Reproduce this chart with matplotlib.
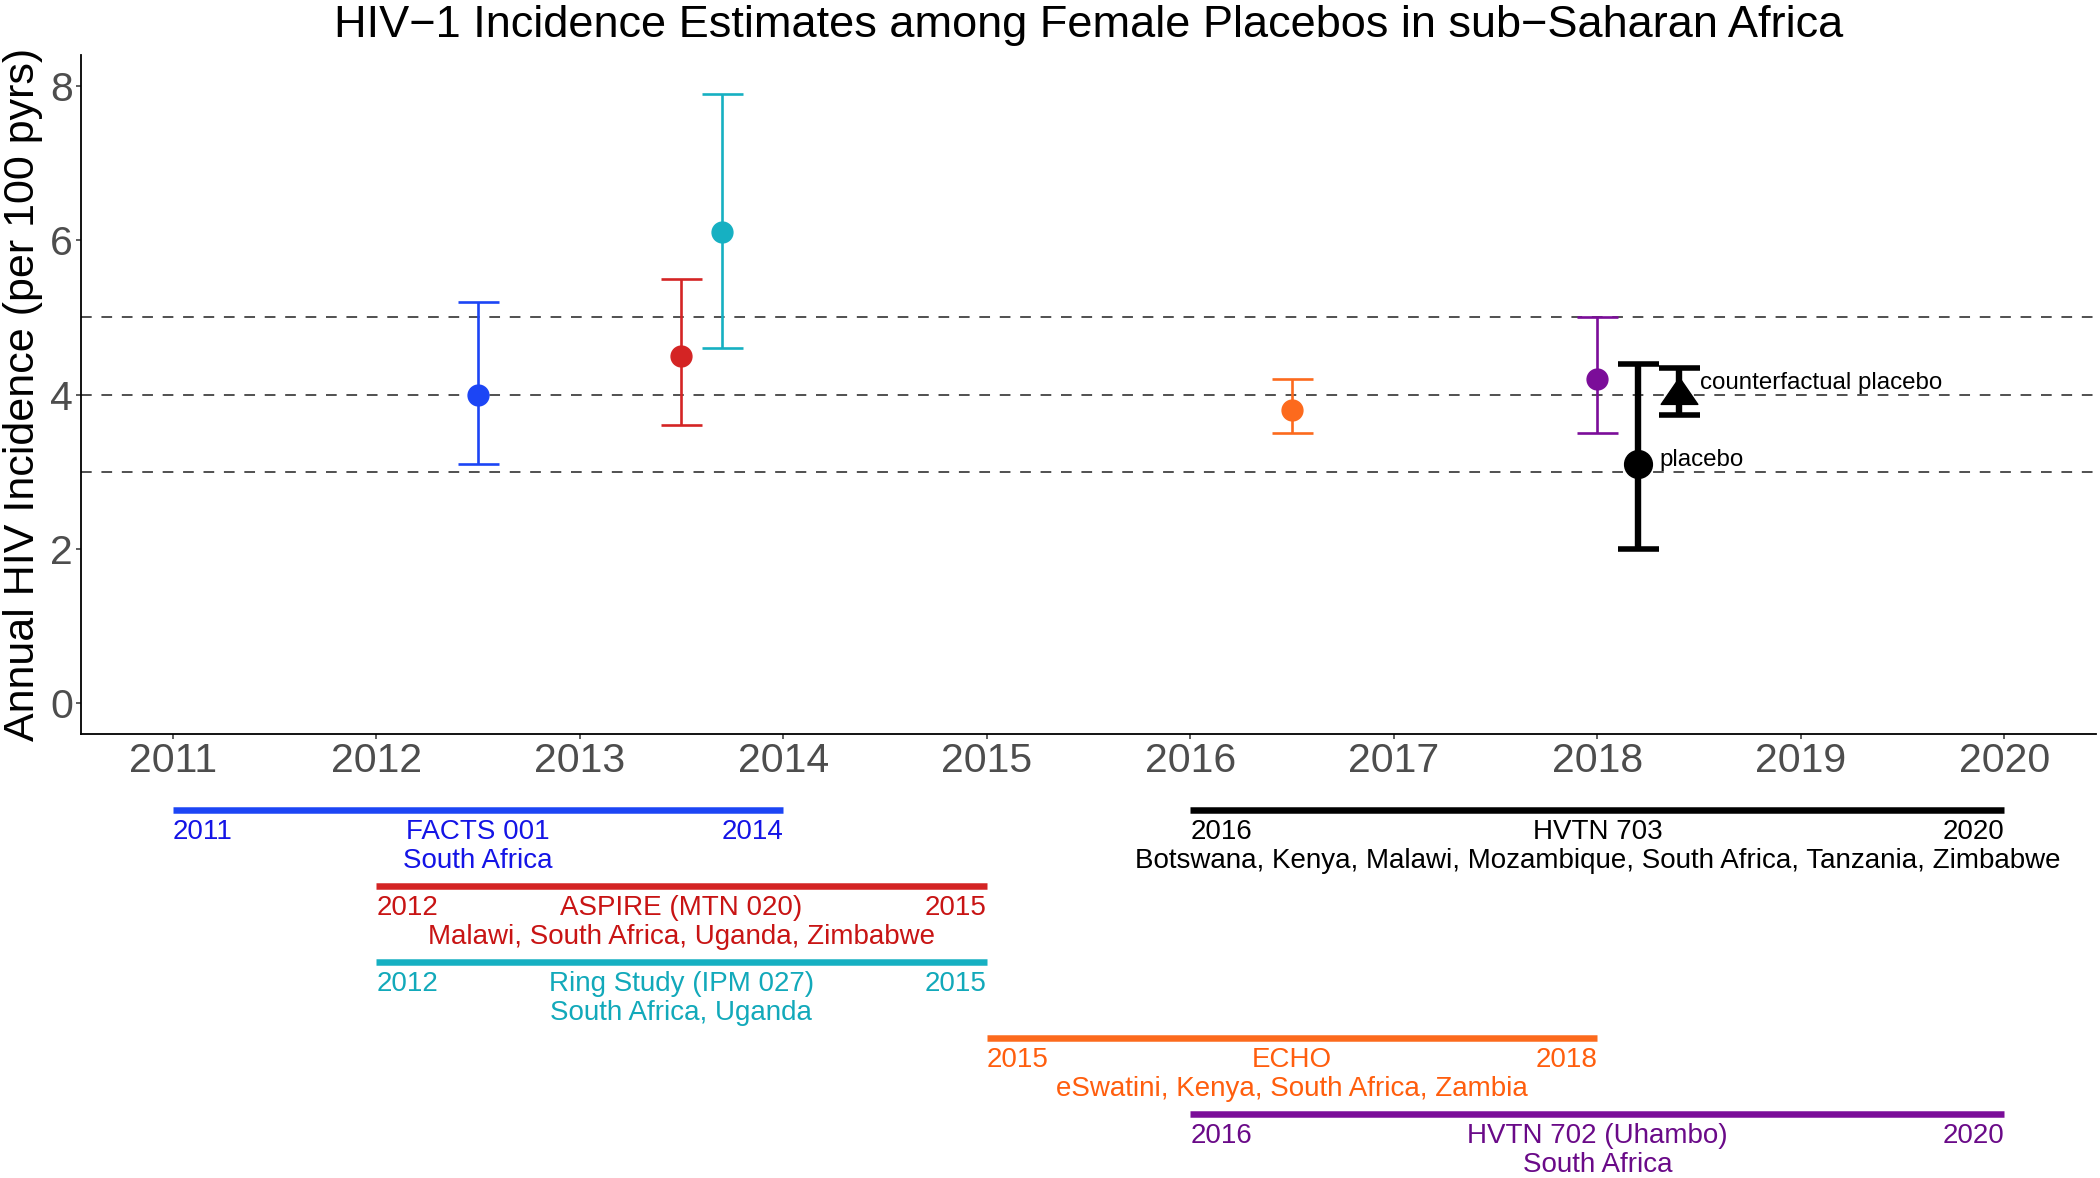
import matplotlib
matplotlib.use("Agg")
import matplotlib.pyplot as plt

plt.rcParams['font.family'] = ['Liberation Sans', 'DejaVu Sans']

# ---------------- data ----------------
studies = ["FACTS 001", "ASPIRE (MTN 020)", "Ring Study (IPM 027)", "ECHO",
           "HVTN 702 (Uhambo)", "HVTN 703"]
countries = ["South Africa",
             "Malawi, South Africa, Uganda, Zimbabwe",
             "South Africa, Uganda",
             "eSwatini, Kenya, South Africa, Zambia",
             "South Africa",
             "Botswana, Kenya, Malawi, Mozambique, South Africa, Tanzania, Zimbabwe"]
start_year = [2011, 2012, 2012, 2015, 2016, 2016]
end_year = [2014, 2015, 2015, 2018, 2020, 2020]
timeline_row = [1, 2, 3, 4, 5, 1]

point_x = [2012.5, 2013.5, 2013.7, 2016.5, 2018.0, 2018.2]
incidence = [4.0, 4.5, 6.1, 3.8, 4.2, 3.1]
ci_low = [3.1, 3.6, 4.6, 3.5, 3.5, 2.0]
ci_high = [5.2, 5.5, 7.9, 4.2, 5.0, 4.4]

cf_x = 2018.4
cf_incidence = 4.0
cf_low = 3.74
cf_high = 4.34

ref_lines = [3, 4, 5]
x_ticks = list(range(2011, 2021))
y_ticks = [0, 2, 4, 6, 8]

colors = ["#1C45F5", "#D42424", "#16B0C2", "#FC6A1D", "#7B0D99", "#000000"]
text_colors = ["#1414E6", "#C81414", "#12A9BA", "#FF5E0E", "#6A0A88", "#000000"]

# ---------------- figure ----------------
W, H = 2100, 1178
fig = plt.figure(figsize=(W / 100, H / 100), dpi=100)
px2pt = 72 / 100

L, R, B, T = 81, 2096, 734, 55
ax = fig.add_axes([L / W, (H - B) / H, (R - L) / W, (B - T) / H])

xlim = (2010.55, 2020.45)
ax.set_xlim(*xlim)
ax.set_ylim(-0.4, 8.4)

for y in ref_lines:
    ax.axhline(y, color="#505050", lw=1.4, linestyle=(0, (5.5, 5.0)), zorder=1)

thin_lw = 1.9
for i in range(5):
    ax.errorbar(point_x[i], incidence[i],
                yerr=[[incidence[i] - ci_low[i]], [ci_high[i] - incidence[i]]],
                fmt='o', color=colors[i], ms=15, elinewidth=thin_lw,
                capsize=41 * px2pt / 2, capthick=thin_lw, zorder=3)

# HVTN 703 placebo (thick black)
i = 5
ax.errorbar(point_x[i], incidence[i],
            yerr=[[incidence[i] - ci_low[i]], [ci_high[i] - incidence[i]]],
            fmt='o', color="black", ms=20, elinewidth=4.6,
            capsize=41 * px2pt / 2, capthick=4.0, zorder=3)

# counterfactual placebo
tri = [(0, 17.8), (-18.35, -8.9), (18.35, -8.9), (0, 17.8)]
ax.errorbar(cf_x, cf_incidence,
            yerr=[[cf_incidence - cf_low], [cf_high - cf_incidence]],
            fmt='none', ecolor="black", elinewidth=4.6,
            capsize=41 * px2pt / 2, capthick=4.0, zorder=3)
ax.plot([cf_x], [cf_incidence], marker=tri, ms=36.7 * px2pt, color="black",
        linestyle='none', zorder=4)

ax.text(2018.506, 4.15, "counterfactual placebo", fontsize=17.4, va='center',
        ha='left', color="black")
ax.text(2018.306, 3.15, "placebo", fontsize=17.4, va='center', ha='left',
        color="black")

ax.set_xticks(x_ticks)
ax.set_xticklabels([str(t) for t in x_ticks])
ax.set_yticks(y_ticks)
ax.tick_params(axis='both', labelsize=29.5, labelcolor="#4D4D4D",
               color="#333333", length=3.6, width=1.1, pad=2.2)
for s in ["top", "right"]:
    ax.spines[s].set_visible(False)
for s in ["left", "bottom"]:
    ax.spines[s].set_linewidth(1.3)
    ax.spines[s].set_color("black")

fig.text(23 / W, 1 - 394.5 / H, "Annual HIV Incidence (per 100 pyrs)",
         rotation=90, ha='center', va='center', fontsize=31, color="black")

fig.text((L + R) / 2 / W, 1 - 25 / H,
         "HIV\u22121 Incidence Estimates among Female Placebos in sub\u2212Saharan Africa",
         ha='center', va='center', fontsize=32.5, color="black")

# ---------------- timeline panel ----------------
tax = fig.add_axes([L / W, 0, (R - L) / W, (H - B) / H])
tax.set_xlim(*xlim)
row_px = 76.1
top = 1 - (809.5 - B) / row_px
tax.set_ylim(top + (H - B) / row_px, top)
tax.axis('off')

fs_tl = 20
off1 = 29.5 / row_px
off2 = 58.5 / row_px
for k in range(len(studies)):
    r = timeline_row[k]
    x0, x1 = start_year[k], end_year[k]
    xm = (x0 + x1) / 2
    tax.plot([x0, x1], [r, r], color=colors[k], lw=6.5 * px2pt,
             solid_capstyle='butt')
    tc = text_colors[k]
    tax.text(x0, r + off1, str(x0), ha='left', va='baseline', fontsize=fs_tl, color=tc)
    tax.text(x1, r + off1, str(x1), ha='right', va='baseline', fontsize=fs_tl, color=tc)
    tax.text(xm, r + off1, studies[k], ha='center', va='baseline', fontsize=fs_tl, color=tc)
    tax.text(xm, r + off2, countries[k], ha='center', va='baseline', fontsize=fs_tl, color=tc)

fig.savefig("out.png", dpi=100)
